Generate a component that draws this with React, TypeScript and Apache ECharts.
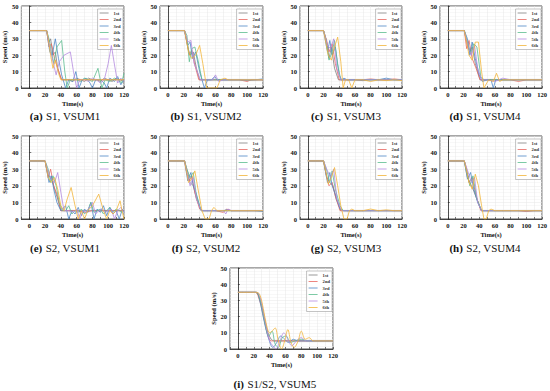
import React, { useEffect, useRef } from 'react';
import * as echarts from 'echarts';

type P = [number, number][];

const runNames = ['1st', '2nd', '3rd', '4th', '5th', '6th'];
const runColors = ['#7f7f7f', '#e8665f', '#4d86c6', '#5cbd8f', '#b48ae0', '#f2b53a'];
const yTickMax = 50;

const S1_VSUM1: P[] = [
  [[0,35],[22,35],[25,28],[27,30],[30,20],[33,22],[36,12],[40,6],[42,5],[50,5],[55,4],[60,6],[65,5],[70,4],[75,6],[80,5],[85,5],[90,4],[95,6],[100,5],[105,4],[110,6],[115,5],[120,4]],
  [[0,35],[22,35],[25,25],[28,27],[32,18],[36,12],[41,5],[50,5],[60,5],[70,5],[80,5],[90,5],[100,5],[110,5],[120,5]],
  [[0,35],[22,35],[26,22],[29,20],[33,30],[37,18],[41,8],[46,0],[50,5],[55,4],[59,10],[63,0],[67,5],[72,6],[77,3],[80,0],[84,5],[90,5],[95,3],[98,0],[102,6],[108,4],[112,7],[116,2],[120,5]],
  [[0,35],[22,35],[25,30],[28,22],[31,15],[35,25],[41,29],[45,10],[48,0],[52,5],[60,5],[65,4],[70,6],[75,5],[80,4],[87,12],[92,0],[96,5],[102,4],[108,6],[113,5],[117,3],[120,9]],
  [[0,35],[22,35],[26,25],[30,16],[34,8],[38,16],[44,20],[52,22],[56,10],[60,0],[64,5],[70,5],[75,4],[80,6],[85,5],[90,3],[95,5],[100,15],[104,26],[108,14],[112,3],[116,6],[120,4]],
  [[0,35],[22,35],[24,30],[27,20],[30,12],[33,17],[37,9],[40,5],[50,5],[60,5],[70,5],[80,5],[90,5],[100,5],[110,5],[120,5]],
];

const S1_VSUM2: P[] = [
  [[0,35],[21,35],[25,25],[28,20],[32,22],[36,12],[40,5],[50,5],[60,5],[70,5],[80,5],[90,5],[100,4.5],[110,5],[120,5]],
  [[0,35],[21,35],[24,28],[27,20],[30,23],[34,14],[39,5],[50,5],[60,5],[70,5],[80,5],[90,5],[100,4],[105,5],[110,5],[120,5]],
  [[0,35],[21,35],[25,26],[28,28],[31,18],[35,22],[40,10],[46,0],[50,5],[55,5],[59,7],[62,5],[70,5],[80,5],[90,5],[100,5],[110,5],[120,5.5]],
  [[0,35],[21,35],[24,32],[27,16],[30,24],[34,25],[38,17],[43,5],[50,5],[60,5],[70,5],[80,5],[90,5],[100,5],[110,5],[120,5]],
  [[0,35],[21,35],[25,28],[29,29],[33,15],[37,10],[41,5],[50,5],[57,5],[60,8],[64,4],[70,5],[80,5],[90,5],[100,5],[110,5],[120,5]],
  [[0,35],[21,35],[26,22],[30,18],[35,20],[40,26],[44,15],[49,0],[55,0],[62,0],[66,5],[72,6],[76,5],[80,5],[90,5],[100,5],[110,5],[120,5]],
];

const S1_VSUM3: P[] = [
  [[0,35],[20,35],[24,28],[27,18],[30,25],[34,12],[39,5],[45,5],[50,5],[60,5],[70,4.5],[80,5],[90,5],[100,5],[110,5],[120,5]],
  [[0,35],[20,35],[24,29],[27,22],[31,27],[35,15],[40,5],[50,5],[60,5],[70,5],[80,5.5],[90,5],[100,5],[110,5.5],[120,5]],
  [[0,35],[20,35],[25,22],[28,29],[31,20],[35,25],[40,8],[43,5],[46,6],[50,5],[60,5],[70,5],[80,5],[90,5],[100,6],[110,5],[120,5]],
  [[0,35],[20,35],[23,30],[27,17],[31,22],[34,29],[38,14],[42,5],[50,5],[60,5],[70,5],[80,5],[90,5],[100,5],[110,5],[120,5]],
  [[0,35],[20,35],[25,26],[29,24],[33,30],[37,12],[42,5],[50,5],[60,5],[70,5],[80,5],[90,5],[100,5],[110,5],[120,5]],
  [[0,35],[20,35],[26,20],[30,17],[34,25],[38,31],[42,16],[45,0],[48,5],[52,5],[56,0],[60,5],[70,5],[80,4],[90,5],[100,4.5],[110,5],[120,4.5]],
];

const S1_VSUM4: P[] = [
  [[0,35],[21,35],[25,26],[28,22],[31,25],[35,15],[41,5],[50,5],[60,5],[70,5],[80,5],[90,5],[100,5],[110,5],[120,5]],
  [[0,35],[21,35],[24,24],[27,29],[31,18],[36,12],[41,5],[50,5],[60,5],[70,5],[80,5],[90,4],[100,5],[110,5],[120,5]],
  [[0,35],[21,35],[25,30],[28,20],[31,28],[35,18],[40,8],[44,4],[50,5],[55,5],[58,0],[61,5],[70,5],[80,5],[90,5],[100,5],[110,5],[120,5]],
  [[0,35],[21,35],[25,28],[29,21],[33,27],[37,25],[42,7],[46,5],[50,5],[60,5],[70,5],[80,5],[90,5],[100,5],[110,5],[120,5]],
  [[0,35],[21,35],[26,25],[30,20],[34,26],[38,12],[43,5],[50,5],[60,4],[70,6],[80,5],[90,5],[100,5],[110,5],[120,5]],
  [[0,35],[21,35],[27,20],[31,17],[35,28],[39,28],[43,10],[46,0],[52,5],[58,4],[62,9],[66,4],[70,5],[80,5],[90,5],[100,5],[110,5],[120,5]],
];

const S2_VSUM1: P[] = [
  [[0,35],[20,35],[24,26],[28,25],[32,18],[36,12],[40,5],[50,5],[60,5],[70,5],[80,5],[90,5],[100,5],[110,5],[120,5]],
  [[0,35],[20,35],[24,25],[27,30],[31,20],[35,15],[40,5],[50,5],[60,5],[70,4],[80,5],[90,5],[100,5],[110,5],[120,5]],
  [[0,35],[20,35],[25,22],[28,26],[31,18],[35,10],[40,5],[46,8],[50,0],[54,5],[58,3],[62,7],[66,2],[70,6],[74,4],[78,10],[82,0],[86,6],[90,4],[94,8],[98,2],[102,7],[106,3],[110,5],[114,0],[118,6],[120,4]],
  [[0,35],[20,35],[24,30],[27,22],[30,26],[34,20],[38,10],[42,5],[46,5],[50,8],[54,3],[58,5],[62,4],[66,6],[70,3],[74,5],[78,10],[82,4],[86,5],[90,6],[94,3],[98,5],[102,7],[106,4],[110,6],[114,5],[118,4],[120,5]],
  [[0,35],[20,35],[24,28],[28,24],[32,22],[36,28],[40,16],[44,5],[50,5],[56,4],[60,6],[64,0],[68,5],[72,4],[76,7],[80,10],[84,3],[88,5],[92,6],[96,4],[100,5],[104,6],[108,0],[112,5],[116,7],[120,4]],
  [[0,35],[20,35],[24,25],[28,22],[32,25],[36,18],[40,8],[44,5],[48,12],[53,19],[58,8],[62,0],[66,5],[70,0],[74,5],[80,8],[88,15],[94,5],[98,0],[102,5],[106,3],[110,5],[115,11],[118,4],[120,0]],
];

const S2_VSUM2: P[] = [
  [[0,35],[21,35],[25,28],[28,22],[32,20],[36,12],[42,5],[50,5],[60,5],[70,5],[80,5],[90,5],[100,5],[110,5],[120,5]],
  [[0,35],[21,35],[24,27],[27,23],[30,26],[34,16],[40,6],[44,5],[50,5],[60,5],[70,4],[74,6],[80,5],[90,5],[100,5],[110,5],[120,5]],
  [[0,35],[21,35],[25,23],[29,28],[32,20],[36,15],[41,6],[44,5],[50,5],[60,5],[70,5],[74,5.5],[80,5],[90,5],[100,5],[110,5],[120,4.5]],
  [[0,35],[21,35],[24,30],[28,25],[32,28],[36,14],[42,5],[50,5],[60,5],[70,5],[80,5],[90,5],[100,5],[110,5],[120,5]],
  [[0,35],[21,35],[25,26],[28,20],[32,25],[36,12],[42,5],[50,5],[60,5],[70,5],[73,3],[76,6],[80,5],[90,5],[100,5],[110,5],[120,5]],
  [[0,35],[21,35],[26,22],[30,24],[34,29],[38,18],[43,5],[47,0],[52,0],[55,5],[58,7],[62,5],[70,5],[80,5],[90,5],[100,5],[110,5],[120,5]],
];

const S2_VSUM3: P[] = [
  [[0,35],[20,35],[24,25],[28,22],[32,20],[36,12],[42,5],[50,5],[60,5],[70,5],[80,5],[90,5],[100,5],[110,5],[120,5]],
  [[0,35],[20,35],[23,28],[27,20],[31,22],[35,14],[41,5],[50,5],[60,5],[70,5],[80,5],[90,5],[100,5],[110,5],[120,5]],
  [[0,35],[20,35],[25,22],[28,28],[31,20],[35,15],[41,6],[46,5],[50,5],[60,5],[70,5],[80,5],[90,5],[100,5],[110,5],[120,5]],
  [[0,35],[20,35],[25,28],[28,22],[31,29],[35,18],[41,8],[45,5],[50,5],[60,5],[70,5],[80,5],[90,5],[100,5],[110,5],[120,5]],
  [[0,35],[20,35],[25,29],[29,25],[33,30],[37,12],[43,5],[50,5],[60,5],[70,5],[80,5],[90,5],[100,5],[110,5],[120,5]],
  [[0,35],[20,35],[26,21],[30,25],[34,31],[38,20],[42,8],[46,0],[50,0],[53,5],[56,6],[60,5],[70,5],[80,6],[90,5],[100,5.5],[110,5],[120,5]],
];

const S2_VSUM4: P[] = [
  [[0,35],[21,35],[25,25],[28,22],[32,18],[37,12],[43,5],[50,5],[60,5],[70,5],[80,5],[90,5],[100,5],[110,5],[120,5]],
  [[0,35],[21,35],[24,30],[27,22],[31,25],[36,14],[42,5],[50,5],[60,5],[70,5],[80,5],[90,5],[100,4.5],[110,5],[120,5]],
  [[0,35],[21,35],[25,24],[29,28],[33,18],[38,10],[43,5],[50,5],[60,5],[70,5],[80,5],[90,5],[100,5],[110,5],[120,5]],
  [[0,35],[21,35],[25,27],[28,20],[32,26],[37,12],[43,5],[50,5],[60,5],[70,5],[80,5],[90,5],[100,5],[110,5],[120,5]],
  [[0,35],[21,35],[26,28],[30,22],[34,25],[38,10],[43,5],[50,5],[60,5],[70,5],[80,5],[90,5],[100,5],[110,5],[120,5]],
  [[0,35],[21,35],[27,22],[31,18],[35,27],[39,20],[43,8],[46,0],[49,0],[52,5],[55,6],[60,5],[70,5],[80,5],[90,5],[100,5],[110,5],[120,5]],
];

const S1S2_VSUM5: P[] = [
  [[0,35],[22,35],[26,33],[30,27],[34,18],[38,10],[42,6],[46,5],[60,5],[80,5],[100,5],[120,5]],
  [[0,35],[22,35],[26,32],[30,25],[34,16],[38,8],[42,5],[46,5],[60,5],[80,5],[100,5],[120,5]],
  [[0,35],[23,35],[27,31],[31,22],[35,13],[39,6],[44,1],[49,4],[54,8],[59,6],[64,4],[70,6],[76,5],[85,5],[100,5],[120,5]],
  [[0,35],[23,35],[27,32],[31,24],[35,14],[39,8],[43,11],[47,3],[51,1],[56,7],[61,8],[66,4],[72,5],[80,6],[88,5],[100,5],[120,5]],
  [[0,35],[24,35],[28,32],[32,23],[36,13],[40,5],[44,2],[48,0],[53,5],[58,10],[63,6],[68,2],[74,5],[80,7],[86,5],[100,5],[120,5]],
  [[0,35],[24,35],[28,33],[32,25],[36,15],[40,10],[43,11],[47,13],[51,5],[55,0],[59,5],[63,12],[67,4],[71,1],[76,5],[80,11],[85,6],[90,7],[95,5],[100,5],[110,5],[120,5]],
];

const panelData = [S1_VSUM1, S1_VSUM2, S1_VSUM3, S1_VSUM4, S2_VSUM1, S2_VSUM2, S2_VSUM3, S2_VSUM4, S1S2_VSUM5];
const panelTags = ['(a)', '(b)', '(c)', '(d)', '(e)', '(f)', '(g)', '(h)', '(i)'];
const panelNames = ['S1, VSUM1', 'S1, VSUM2', 'S1, VSUM3', 'S1, VSUM4', 'S2, VSUM1', 'S2, VSUM2', 'S2, VSUM3', 'S2, VSUM4', 'S1/S2, VSUM5'];

// layout (pixels)
const layout = [
  { left: 21, top: 6, width: 103, height: 82, cx: 65, cy: 116 },
  { left: 160, top: 6, width: 103, height: 82, cx: 206, cy: 116 },
  { left: 300, top: 6, width: 102, height: 82, cx: 346, cy: 116 },
  { left: 440, top: 6, width: 102, height: 82, cx: 485, cy: 116 },
  { left: 21, top: 136, width: 103, height: 83, cx: 65, cy: 248 },
  { left: 160, top: 136, width: 103, height: 83, cx: 206, cy: 248 },
  { left: 300, top: 136, width: 102, height: 83, cx: 346, cy: 248 },
  { left: 440, top: 136, width: 102, height: 83, cx: 485, cy: 248 },
  { left: 230, top: 268, width: 103, height: 81, cx: 275, cy: 384 },
];

const SERIF = '"Liberation Serif", "DejaVu Serif", serif';

export default function App() {
  const ref = useRef<HTMLDivElement>(null);
  useEffect(() => {
    if (!ref.current) return;
    const chart = echarts.init(ref.current, undefined, { renderer: 'svg' });
    const grid: any[] = [];
    const xAxis: any[] = [];
    const yAxis: any[] = [];
    const series: any[] = [];
    const legend: any[] = [];
    const graphic: any[] = [];
    layout.forEach((L, i) => {
      grid.push({ left: L.left, top: L.top, width: L.width, height: L.height, show: true, borderColor: '#222', borderWidth: 0.8, containLabel: false });
      xAxis.push({
        type: 'value', gridIndex: i, min: -10, max: 120, interval: 10,
        name: 'Time(s)', nameLocation: 'middle', nameGap: 12,
        nameTextStyle: { fontFamily: SERIF, fontWeight: 'bold', fontSize: 6.5, color: '#111' },
        axisLine: { show: true, onZero: false, lineStyle: { color: '#222', width: 0.8 } },
        axisTick: { show: true, inside: true, length: 2, lineStyle: { color: '#222', width: 0.6 } },
        axisLabel: { fontFamily: SERIF, fontWeight: 'bold', fontSize: 6.5, color: '#111', margin: 3,
          formatter: (v: number) => (v >= 0 && v % 20 === 0 ? String(v) : '') },
        splitLine: { show: true, lineStyle: { color: '#e6e6e6', width: 0.5 } },
      });
      yAxis.push({
        type: 'value', gridIndex: i, min: 0, max: yTickMax, interval: 10,
        name: 'Speed (m/s)', nameLocation: 'middle', nameGap: 13,
        nameTextStyle: { fontFamily: SERIF, fontWeight: 'bold', fontSize: 6.5, color: '#111' },
        axisLine: { show: true, lineStyle: { color: '#222', width: 0.8 } },
        axisTick: { show: true, inside: true, length: 2, lineStyle: { color: '#222', width: 0.6 } },
        axisLabel: { fontFamily: SERIF, fontWeight: 'bold', fontSize: 6.5, color: '#111', margin: 3 },
        splitLine: { show: true, lineStyle: { color: '#e6e6e6', width: 0.5 } },
        minorTick: { show: false },
        minorSplitLine: { show: true, lineStyle: { color: '#f0f0f0', width: 0.5 } },
      });
      panelData[i].forEach((d, k) => {
        series.push({
          type: 'line', name: runNames[k], xAxisIndex: i, yAxisIndex: i, data: d,
          symbol: 'none', smooth: i === 8 ? 0.35 : false,
          lineStyle: { width: 0.8, color: runColors[k] }, itemStyle: { color: runColors[k] },
          z: 2 + k,
        });
      });
      legend.push({
        data: runNames.map((n) => ({ name: n, icon: 'rect' })),
        orient: 'vertical', right: 550 - (L.left + L.width) + 1, top: L.top + 3,
        itemWidth: 9, itemHeight: 0.8, itemGap: 1.5, padding: [1.5, 2, 1.5, 2],
        borderColor: '#888', borderWidth: 0.5, backgroundColor: '#fff',
        textStyle: { fontFamily: SERIF, fontWeight: 'bold', fontSize: 4.6, color: '#333', lineHeight: 5 },
      });
      graphic.push({
        type: 'text', x: L.cx, y: L.cy,
        style: {
          text: `{b|${panelTags[i]}} {n|${panelNames[i]}}`,
          textAlign: 'center', textVerticalAlign: 'middle',
          rich: {
            b: { fontFamily: SERIF, fontWeight: 'bold', fontSize: 11, fill: '#111' },
            n: { fontFamily: SERIF, fontSize: 11, fill: '#111' },
          },
        },
      });
    });
    chart.setOption({
      animation: false,
      color: runColors,
      backgroundColor: '#fff',
      grid, xAxis, yAxis, series, legend, graphic,
    });
    return () => chart.dispose();
  }, []);
  return <div ref={ref} style={{ position: 'fixed', left: 0, top: 0, width: 550, height: 391 }} />;
}
